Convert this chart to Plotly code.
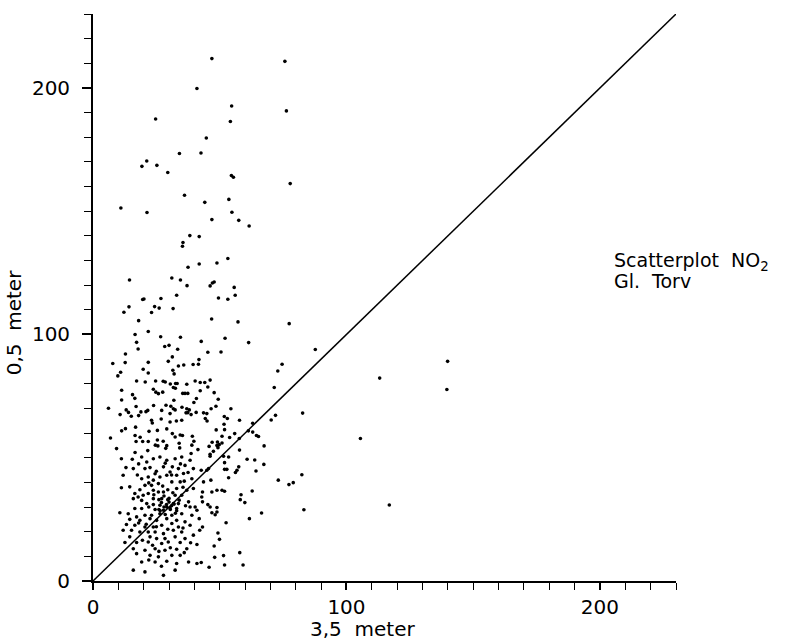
import plotly.graph_objects as go

# 3,5 meter (x) vs 0,5 meter (y) NO2 values
x_vals = [
    43.2, 46.9, 75.7, 41.0, 54.7, 76.3, 24.7, 54.2, 44.7, 34.1, 42.6, 21.2, 19.3, 25.2, 29.5, 54.6, 55.4, 77.8,
    36.1, 44.1, 53.6, 11.0, 21.3, 54.8, 46.9, 57.5, 61.6, 38.2, 41.9, 35.5, 35.3, 53.2, 41.9, 48.9, 37.5, 14.4,
    31.1, 34.5, 37.1, 46.2, 47.1, 47.8, 55.7, 56.1, 33.0, 20.1, 19.6, 26.8, 49.5, 53.2,
    77.4, 14.2, 12.2, 24.3, 26.1, 23.1, 31.6, 18.0, 46.8, 57.2,
    16.6, 21.8, 26.7, 34.5, 17.2, 17.8, 28.3, 30.0, 33.4, 12.8, 31.3, 7.8, 12.7, 21.8, 29.7, 33.7, 35.8, 39.5,
    10.9, 19.8, 21.8, 31.5, 32.0, 9.8, 17.2, 20.6, 24.7, 27.7, 28.5, 30.5, 32.6, 33.2, 37.0, 23.8, 31.7, 32.5,
    11.3, 24.8, 25.8, 27.5, 35.4, 36.3, 37.4, 15.6, 16.5, 11.3, 31.9, 39.8, 28.8, 30.7, 17.0, 6.1, 13.1, 23.9,
    27.1, 31.7, 32.4, 35.1, 37.0, 38.0, 21.6, 20.9, 18.9, 14.0, 10.7, 18.0, 15.1, 30.4, 36.7, 37.4, 38.7, 26.9,
    23.1, 23.4, 30.4, 32.9, 35.0, 12.8, 11.3, 16.8, 22.1, 25.4, 29.1, 31.3, 32.4, 34.4, 35.3, 16.6, 18.6, 39.2,
    6.9, 25.4, 27.7, 17.0, 19.6, 21.8, 34.0, 39.8, 39.0, 24.6, 25.6, 29.1, 28.7, 9.3, 21.6, 34.2, 16.6, 38.7,
    42.7, 52.1, 61.4, 45.3, 50.5, 41.8, 41.6, 74.6, 72.9, 40.3, 42.3, 44.1, 46.2, 42.3, 45.3, 47.8, 71.5, 49.4,
    40.8, 46.6, 48.5, 54.4, 43.6, 44.9, 40.7, 51.8, 53.0, 44.3, 45.0, 57.8, 72.0, 70.3, 63.0, 51.7, 48.6, 51.9,
    55.9, 61.3, 63.0, 64.5, 65.3, 50.9, 53.9, 57.7, 47.0, 49.1, 50.9, 45.8, 48.9, 49.3, 49.8, 67.5, 41.4, 57.8,
    47.5, 46.2,
    87.7, 139.9, 113.1, 139.6, 82.7, 105.5, 82.4, 83.2, 116.9,
    46.2, 51.5, 53.5, 60.8, 63.8, 51.9, 67.4, 42.7, 44.9, 45.6, 51.9, 52.8, 57.5, 56.8, 56.2, 64.3, 73.1, 77.3,
    79.0, 53.5, 43.6, 46.5, 43.2, 42.9, 46.9, 48.9, 50.9, 51.9, 62.8, 58.4, 58.1, 59.9, 43.2, 45.3, 46.2, 48.9,
    46.9, 48.2, 48.9, 66.5, 40.3, 41.0, 41.9, 61.7, 52.5, 43.2, 42.1, 49.3, 49.9, 41.0, 47.8, 57.9, 51.5, 48.0,
    41.0, 42.7, 51.9, 59.2, 45.8,
    11.2, 15.5, 19.2, 21.2, 23.8, 26.4, 29.1, 32.4, 35.0, 38.3, 31.3, 33.7, 36.3, 39.6, 15.9, 20.5, 27.8, 30.4,
    11.9, 19.2, 21.8, 23.8, 26.4, 29.1, 33.0, 35.7, 39.0, 11.2, 14.5, 20.5, 23.1, 25.8, 31.1, 34.4, 16.5, 17.8,
    19.8, 21.8, 23.8, 25.8, 27.8, 37.0, 39.6, 15.9, 19.2, 23.8, 27.1, 32.4, 35.0, 21.2, 23.8, 26.4, 29.1, 30.4,
    31.7, 33.7, 37.7, 16.5, 19.2, 27.8, 33.0, 38.3, 10.6, 13.9, 17.2, 20.5, 23.1, 26.4, 31.1, 35.0, 39.0, 14.5,
    18.5, 22.5, 25.1, 29.1, 33.0, 36.3, 13.2, 16.5, 20.5, 23.8, 27.1, 31.1, 33.7, 38.3, 11.9, 15.2, 18.5, 21.8,
    24.5, 27.8, 31.7, 35.0, 14.5, 22.5, 25.1, 28.4, 32.4, 36.3, 39.6, 12.6, 17.2, 21.8, 27.1, 29.7, 34.4, 15.9,
    20.5, 24.5, 28.4, 33.0, 37.0, 17.2, 22.5, 25.8, 31.1, 34.4, 37.7, 19.2, 24.5, 29.1, 33.0, 15.9, 20.5, 27.8,
    32.4,
    29.0, 30.0, 31.0, 28.0, 27.0, 32.0, 29.5, 30.5, 26.0, 33.0,
    18.0, 22.5, 25.0, 28.5, 34.5, 37.5, 13.0, 17.5, 24.5, 31.0, 36.0, 22.0, 27.5, 29.5, 33.0, 35.5, 18.5, 24.0,
    26.0, 28.0, 30.0, 31.5, 34.0, 36.5, 22.0, 24.5, 28.5, 32.5, 26.5, 18.0, 21.0, 25.0, 29.5, 35.5, 19.5, 23.5,
    26.0, 30.5, 36.0, 22.0, 27.0, 38.5,
]
y_vals = [
    232.9, 211.9, 210.8, 199.8, 192.7, 190.7, 187.4, 186.4, 179.7, 173.4, 173.6, 170.4, 168.2, 168.6, 165.7, 164.5, 163.8, 161.2,
    156.5, 153.6, 154.8, 151.3, 149.5, 149.6, 146.6, 146.3, 144.0, 140.1, 139.7, 137.3, 135.8, 130.8, 128.6, 129.0, 127.3, 122.1,
    122.9, 122.1, 119.8, 119.7, 120.9, 121.3, 119.1, 115.9, 115.9, 114.4, 114.2, 114.6, 114.8, 114.3,
    104.4, 111.2, 109.0, 111.3, 110.7, 108.9, 110.5, 105.6, 106.3, 105.1,
    100.0, 101.2, 99.1, 98.9, 96.8, 94.1, 95.1, 95.6, 94.0, 92.1, 90.9, 88.2, 88.6, 88.7, 89.1, 87.2, 87.6, 87.8,
    84.7, 85.9, 84.4, 85.5, 84.0, 83.2, 81.1, 80.7, 81.1, 81.0, 80.7, 79.9, 80.1, 80.1, 79.8, 77.8, 78.5, 78.2,
    77.4, 76.6, 76.0, 76.6, 76.1, 76.1, 76.1, 75.6, 74.1, 73.4, 73.3, 72.4, 71.3, 70.9, 70.8, 70.1, 69.4, 71.2,
    69.2, 69.9, 69.4, 70.5, 69.9, 69.4, 69.2, 68.7, 68.6, 68.4, 67.5, 67.1, 66.8, 67.9, 68.2, 68.3, 67.5, 65.7,
    65.2, 64.1, 64.5, 64.9, 65.2, 61.8, 60.9, 62.4, 60.7, 61.1, 61.7, 59.8, 58.4, 59.2, 59.0, 59.0, 58.3, 58.7,
    58.0, 57.2, 56.7, 56.6, 56.6, 56.6, 55.9, 56.7, 55.1, 55.1, 54.8, 54.9, 53.8, 53.7, 52.9, 54.0, 52.1, 51.7,
    97.2, 98.5, 96.7, 92.8, 92.9, 89.8, 87.9, 87.9, 85.2, 81.1, 80.5, 80.5, 81.5, 77.2, 78.7, 76.4, 78.5, 73.7,
    74.0, 69.9, 70.9, 69.9, 68.2, 67.9, 68.4, 66.7, 65.9, 65.9, 64.9, 65.2, 67.2, 65.3, 64.0, 63.6, 61.3, 61.4,
    59.8, 60.9, 60.4, 59.0, 58.6, 58.7, 58.2, 57.8, 56.3, 56.4, 56.0, 54.6, 55.0, 54.1, 55.3, 54.8, 53.3, 53.1,
    52.6, 51.4,
    93.9, 89.1, 82.3, 77.7, 68.1, 57.8, 43.1, 28.9, 30.8,
    50.6, 50.6, 50.3, 49.4, 49.1, 48.0, 47.3, 44.9, 44.9, 45.6, 45.3, 45.3, 46.3, 44.9, 44.0, 44.6, 40.9, 39.1,
    39.9, 41.9, 40.2, 40.9, 36.1, 34.1, 36.1, 36.8, 36.8, 36.4, 36.5, 35.0, 33.0, 31.8, 32.1, 31.0, 30.0, 29.8,
    27.7, 26.9, 28.0, 27.6, 30.0, 28.7, 25.3, 25.3, 23.6, 21.9, 20.6, 19.5, 16.9, 14.8, 14.2, 11.5, 10.3, 9.6,
    7.1, 7.5, 6.5, 6.5, 5.6,
    49.6, 49.4, 50.3, 48.3, 49.6, 50.3, 49.0, 49.6, 50.3, 49.0, 46.3, 45.6, 46.9, 45.6, 45.6, 45.6, 46.3, 44.2,
    42.9, 41.5, 42.2, 40.9, 42.2, 42.9, 42.9, 43.6, 41.5, 37.8, 38.2, 38.8, 38.8, 39.5, 40.2, 40.2, 35.5, 34.1,
    34.8, 35.5, 36.8, 36.1, 36.1, 36.8, 37.5, 33.4, 32.7, 33.4, 33.4, 34.8, 34.8, 31.4, 31.0, 30.7, 30.0, 29.6,
    31.4, 31.4, 32.1, 29.4, 29.4, 28.7, 29.4, 30.0, 27.7, 27.3, 26.0, 26.7, 26.7, 27.3, 26.7, 27.3, 26.7, 25.0,
    24.6, 25.3, 24.6, 25.3, 24.6, 24.0, 22.9, 22.6, 21.9, 21.9, 22.6, 23.3, 21.9, 22.6, 20.6, 20.6, 19.9, 19.9,
    19.9, 19.2, 20.6, 19.9, 17.9, 17.9, 17.2, 17.2, 17.9, 17.2, 18.6, 15.6, 15.6, 15.8, 15.2, 15.8, 15.6, 13.1,
    12.5, 13.1, 12.5, 12.9, 13.1, 11.1, 10.4, 9.8, 10.4, 10.4, 7.7, 7.7, 7.7, 8.0, 7.1, 4.4, 3.7, 2.3,
    4.4,
    31.0, 32.0, 30.5, 30.0, 31.8, 31.2, 33.0, 29.0, 29.0, 28.5,
    47.5, 46.0, 44.5, 47.8, 47.5, 44.0, 46.0, 43.0, 43.5, 43.0, 40.5, 39.8, 38.5, 37.0, 37.5, 38.0, 37.0, 35.0,
    33.0, 34.5, 33.5, 35.8, 32.8, 30.5, 30.0, 29.0, 27.0, 27.5, 28.5, 23.5, 23.0, 22.0, 21.0, 21.5, 16.5, 14.5,
    12.0, 13.5, 11.5, 8.5, 6.0, 15.5,
]

line_x = [0, 230]
line_y = [0, 230]

x_ticks = [0, 100, 200]
y_ticks = [0, 100, 200]
x_label = "3,5\u00a0\u00a0meter"
y_label = "0,5\u00a0\u00a0meter"
title_lines = ["Scatterplot\u00a0\u00a0NO<sub>2</sub>", "Gl.\u00a0\u00a0Torv"]

FONT = "DejaVu Sans"

fig = go.Figure()
fig.add_trace(go.Scatter(x=line_x, y=line_y, mode="lines",
                         line=dict(color="black", width=1.5), hoverinfo="skip", cliponaxis=False))
fig.add_trace(go.Scatter(x=x_vals, y=y_vals, mode="markers",
                         marker=dict(color="black", size=3.6, line=dict(width=0)), cliponaxis=False))

axis_common = dict(
    range=[0, 230], showgrid=False, zeroline=False, showline=True,
    linecolor="black", linewidth=1.8, ticks="outside", tickcolor="black", tickwidth=1.5,
    tickfont=dict(family=FONT, size=20, color="black"),
    minor=dict(dtick=10, ticks="outside", ticklen=7, tickcolor="black", tickwidth=1.3, showgrid=False),
)
fig.update_xaxes(**axis_common, tickvals=x_ticks, ticklen=7, ticklabelstandoff=0)
fig.update_yaxes(**axis_common, tickvals=y_ticks, ticklen=9, ticklabelstandoff=8)

fig.update_layout(
    width=786, height=640, showlegend=False,
    margin=dict(l=93, r=110, t=14, b=59),
    plot_bgcolor="white", paper_bgcolor="white",
    font=dict(family=FONT, color="black"),
    annotations=[
        dict(text=x_label, xref="paper", yref="paper", x=(308 - 93) / 583, y=-0.0855,
             xanchor="left", yanchor="middle", showarrow=False, font=dict(family=FONT, size=20)),
        dict(text=y_label, xref="paper", yref="paper", x=-0.135, y=0.455, textangle=-90,
             xanchor="center", yanchor="middle", showarrow=False, font=dict(family=FONT, size=20)),
        dict(text=title_lines[0], xref="paper", yref="paper", x=0.89, y=0.563,
             xanchor="left", yanchor="middle", showarrow=False, font=dict(family=FONT, size=19)),
        dict(text=title_lines[1], xref="paper", yref="paper", x=0.89, y=0.529,
             xanchor="left", yanchor="middle", showarrow=False, font=dict(family=FONT, size=19)),
    ],
)

fig.write_html("out.html")
